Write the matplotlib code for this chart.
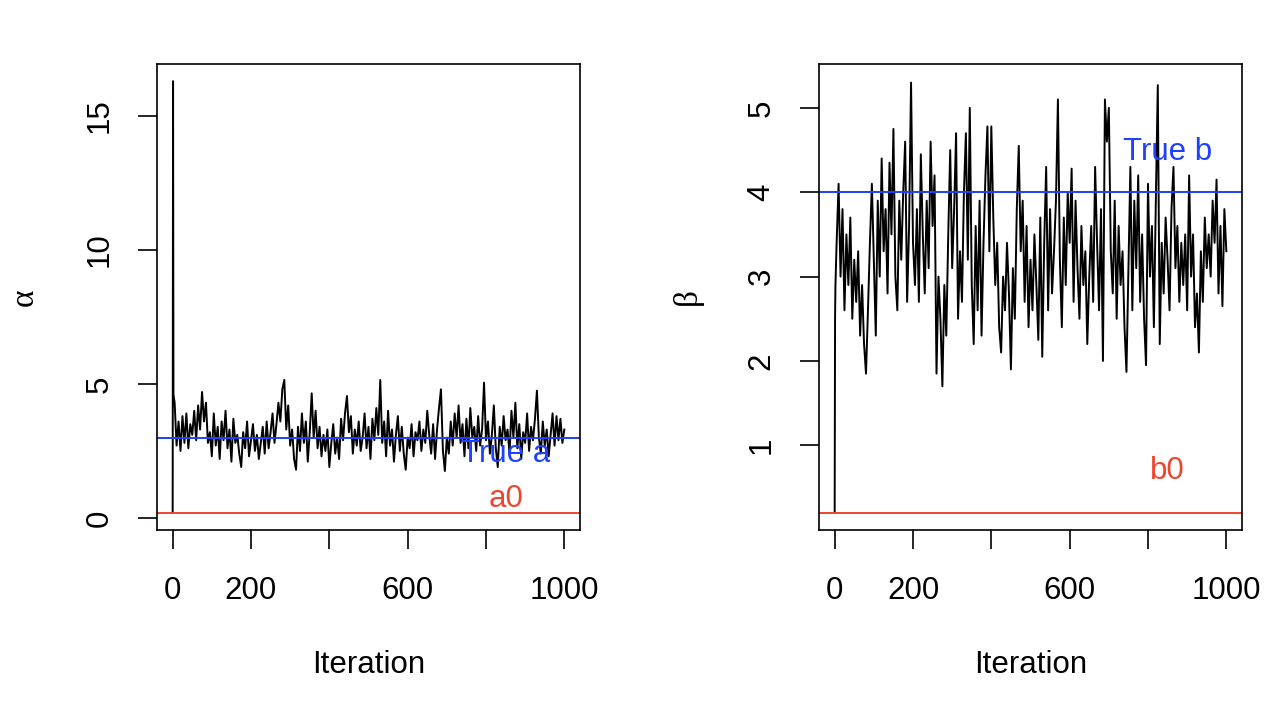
import numpy as np
import matplotlib
matplotlib.use("Agg")
import matplotlib.pyplot as plt

# MCMC traces (iterations 0, 1, 2, then every 5th)
iterations = np.r_[0, 1, 2, np.arange(5, 1001, 5)]

alpha_trace = [
    0.2, 16.3, 4.6,
    4.3, 2.7, 3.6, 2.5, 3.8, 2.8, 3.9, 2.6, 3.5, 3.1,
    4.0, 2.9, 4.2, 3.3, 4.7, 3.6, 4.3, 2.8, 3.2, 2.3,
    3.9, 2.7, 3.4, 2.2, 3.6, 2.9, 4.0, 2.6, 3.3, 2.1,
    3.7, 2.8, 3.1, 2.4, 1.9, 3.2, 2.6, 3.6, 2.3, 2.9,
    3.5, 2.5, 3.1, 2.2, 2.8, 3.4, 2.4, 3.6, 2.6, 3.2,
    3.9, 2.8, 3.5, 4.3, 3.6, 4.8, 5.15, 3.3, 4.2, 2.7,
    3.3, 2.2, 1.8, 3.4, 2.5, 3.9, 2.8, 3.6, 2.1, 3.2,
    4.65, 3.0, 4.0, 2.6, 3.4, 2.3, 3.1, 2.5, 3.3, 1.9,
    2.8, 3.5, 2.4, 3.0, 2.2, 3.7, 2.9, 3.9, 4.55, 3.2,
    3.8, 2.4, 3.3, 2.7, 3.6, 2.5, 3.0, 3.9, 2.6, 3.4,
    2.2, 3.7, 2.9, 4.1, 3.1, 5.15, 2.8, 3.6, 2.3, 4.0,
    2.7, 3.3, 2.1, 3.1, 3.8, 2.5, 3.4, 2.4, 1.8, 3.0,
    2.6, 3.5, 2.3, 3.2, 2.9, 3.6, 2.5, 3.3, 2.8, 4.0,
    3.1, 2.4, 3.5, 2.2, 3.3, 4.1, 4.8, 2.5, 1.75, 3.0,
    2.4, 3.6, 2.7, 3.9, 3.0, 4.2, 2.8, 3.5, 2.3, 3.7,
    2.6, 4.1, 3.0, 3.4, 2.5, 3.8, 2.7, 3.3, 5.05, 2.9,
    3.6, 2.4, 3.1, 4.2, 2.6, 1.9, 3.4, 2.7, 3.8, 2.9,
    3.3, 2.4, 4.0, 3.0, 4.3, 2.6, 3.5, 2.2, 3.2, 2.8,
    3.9, 2.5, 3.4, 2.9, 3.7, 4.75, 3.0, 2.4, 3.6, 2.7,
    3.3, 2.3, 3.1, 3.9, 2.7, 3.8, 2.9, 3.7, 2.8, 3.3,
]

beta_trace = [
    0.2, 2.5, 2.9,
    3.4, 4.1, 3.0, 3.8, 2.6, 3.5, 2.9, 3.7, 2.5, 3.2,
    2.7, 3.3, 2.3, 2.9, 2.2, 1.85, 2.6, 3.4, 4.1, 3.2,
    2.3, 3.9, 3.0, 4.4, 3.3, 3.8, 2.8, 4.35, 3.5, 4.75,
    3.0, 2.6, 3.9, 3.2, 4.0, 4.6, 2.7, 3.6, 5.3, 3.4,
    2.9, 3.8, 2.7, 4.45, 3.5, 2.8, 3.9, 3.1, 4.6, 3.6,
    4.2, 1.85, 3.0, 2.5, 1.7, 2.9, 2.3, 3.5, 4.5, 3.1,
    3.8, 4.7, 2.5, 3.3, 2.7, 4.0, 4.7, 3.2, 5.0, 2.9,
    2.2, 3.6, 2.6, 3.9, 2.3, 3.4, 4.2, 4.78, 3.3, 4.78,
    3.7, 2.9, 3.4, 2.4, 2.1, 3.0, 2.6, 3.4, 2.8, 1.9,
    3.1, 2.5, 3.8, 4.55, 3.3, 3.9, 2.7, 3.6, 2.4, 3.2,
    2.6, 3.5, 2.9, 2.25, 3.7, 2.05, 3.4, 4.3, 2.6, 3.8,
    2.8, 3.3, 3.9, 5.1, 3.2, 2.4, 3.7, 2.9, 4.0, 3.4,
    4.28, 2.7, 3.9, 3.1, 2.5, 3.6, 2.9, 3.3, 2.2, 3.0,
    3.6, 2.7, 4.3, 3.4, 2.6, 3.8, 2.0, 5.1, 4.6, 5.0,
    3.3, 2.8, 3.9, 2.5, 3.6, 2.9, 3.3, 2.4, 1.87, 3.1,
    4.3, 2.6, 3.9, 3.1, 4.2, 2.7, 3.5, 2.5, 1.95, 4.1,
    3.0, 3.6, 2.4, 3.9, 5.27, 2.2, 3.4, 2.8, 3.7, 3.2,
    2.6, 3.8, 4.3, 3.1, 3.6, 2.7, 3.4, 2.9, 3.5, 2.6,
    4.2, 3.0, 3.5, 2.4, 2.8, 2.1, 3.3, 2.7, 3.7, 3.1,
    3.5, 3.0, 3.9, 3.4, 4.15, 2.8, 3.6, 2.65, 3.8, 3.3,
]

true_a, a0 = 3, 0.2
true_b, b0 = 4, 0.2

x_ticks = [0, 200, 400, 600, 800, 1000]
x_tick_labels = ["0", "200", "", "600", "", "1000"]

blue = "#1E40FF"
red = "#EE4430"

plt.rcParams["font.family"] = ["Liberation Sans", "DejaVu Sans"]

fig = plt.figure(figsize=(12.88, 7.10), dpi=100)
ax1 = fig.add_axes([157 / 1288, 1 - 530 / 710, 423 / 1288, 466 / 710])
ax2 = fig.add_axes([819 / 1288, 1 - 530 / 710, 423 / 1288, 466 / 710])


def style_axis(ax, trace, y_ticks, ylabel):
    ax.plot(iterations, trace, color="black", lw=1.4)
    ax.set_xlim(-40, 1040)
    ax.set_xticks(x_ticks)
    ax.set_xticklabels(x_tick_labels)
    ax.set_yticks(y_ticks)
    ax.set_yticklabels([str(t) for t in y_ticks], rotation=90, va="center")
    ax.tick_params(direction="out", length=13.5, width=1.2, labelsize=22.5, pad=17)
    ax.tick_params(axis="x", pad=19.5)
    for s in ax.spines.values():
        s.set_linewidth(1.2)
    ax.set_xlabel("Iteration", fontsize=22.5)
    ax.xaxis.label.set_va("center")
    ax.xaxis.set_label_coords(0.5, -135 / 466)
    ax.set_ylabel(ylabel, fontsize=24, family=["Liberation Serif", "DejaVu Serif"])
    ax.yaxis.label.set_va("center")
    ax.yaxis.set_label_coords(-132 / 423, 0.5)


# alpha panel
style_axis(ax1, alpha_trace, [0, 5, 10, 15], "α")
ax1.set_ylim(-0.45, 16.94)
ax1.axhline(true_a, color=blue, lw=1.4)
ax1.axhline(a0, color=red, lw=1.4)
ax1.text(850, true_a - 0.6, "True a", color=blue, fontsize=22.5, ha="center", va="center")
ax1.text(850, a0 + 0.5, "a0", color=red, fontsize=22.5, ha="center", va="center")

# beta panel
style_axis(ax2, beta_trace, [1, 2, 3, 4, 5], "β")
ax2.set_ylim(-0.004, 5.52)
ax2.axhline(true_b, color=blue, lw=1.4)
ax2.axhline(b0, color=red, lw=1.4)
ax2.text(850, true_b + 0.48, "True b", color=blue, fontsize=22.5, ha="center", va="center")
ax2.text(850, b0 + 0.5, "b0", color=red, fontsize=22.5, ha="center", va="center")

fig.savefig("out.png", dpi=100)
